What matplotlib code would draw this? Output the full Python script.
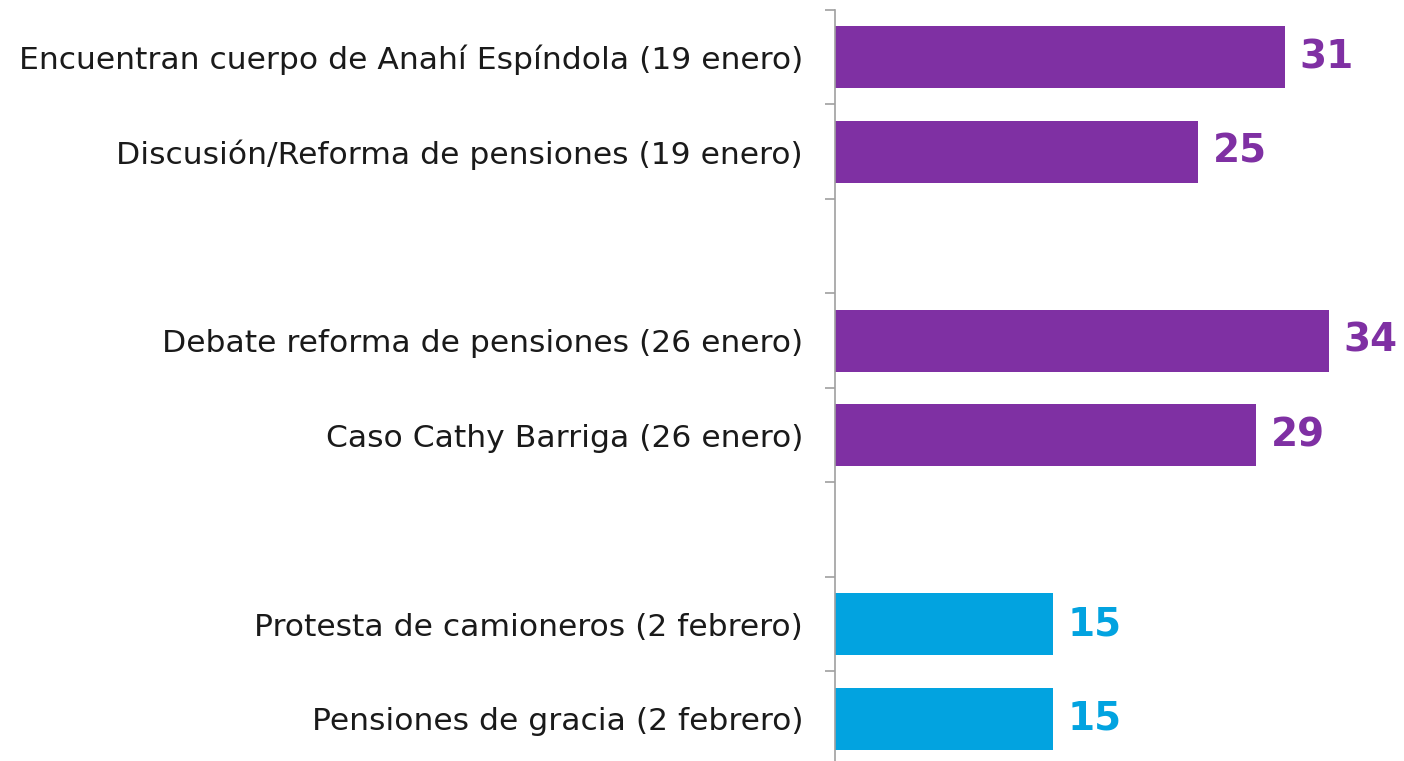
import matplotlib.pyplot as plt
import numpy as np

# Encuestas: temas mas comentados por semana (gaps = separacion entre semanas)
categories = ['Encuentran cuerpo de Anahí Espíndola (19 enero)',
              'Discusión/Reforma de pensiones (19 enero)',
              '',
              'Debate reforma de pensiones (26 enero)',
              'Caso Cathy Barriga (26 enero)',
              '',
              'Protesta de camioneros (2 febrero)',
              'Pensiones de gracia (2 febrero)']
values = [31, 25, None, 34, 29, None, 15, 15]
week = ['enero', 'enero', None, 'enero', 'enero', None, 'febrero', 'febrero']

purple = '#7F30A3'
blue = '#02A3E0'
week_colors = {'enero': purple, 'febrero': blue}

plt.rcParams['font.family'] = ['DejaVu Sans']

fig = plt.figure(figsize=(14.04, 7.61), dpi=100)
ax = fig.add_axes([0.5947, -0.0065, 0.4053, 0.9934])

y = np.arange(len(categories))
for i in range(len(categories)):
    if values[i] is None:
        continue
    c = week_colors[week[i]]
    ax.barh(y[i], values[i], height=0.66, color=c)
    ax.text(values[i] + 1.0, y[i], str(values[i]), ha='left', va='center',
            fontsize=28, fontweight='bold', color=c)

ax.set_xlim(0, 39.2)
ax.set_ylim(len(categories) - 0.5, -0.5)
ax.set_yticks(y)
ax.set_yticklabels(categories, fontsize=22.6, color='#1a1a1a')
# ticks sit on the slot boundaries
ax.set_yticks(np.arange(-0.5, len(categories), 1), minor=True)
ax.tick_params(axis='y', which='major', length=0, pad=23)
ax.tick_params(axis='y', which='minor', length=7, width=1.2, color='#a0a0a0')
ax.set_xticks([])
for s in ['top', 'right', 'bottom']:
    ax.spines[s].set_visible(False)
ax.spines['left'].set_color('#a0a0a0')
ax.spines['left'].set_linewidth(1.2)

plt.savefig('out.png', dpi=100)
